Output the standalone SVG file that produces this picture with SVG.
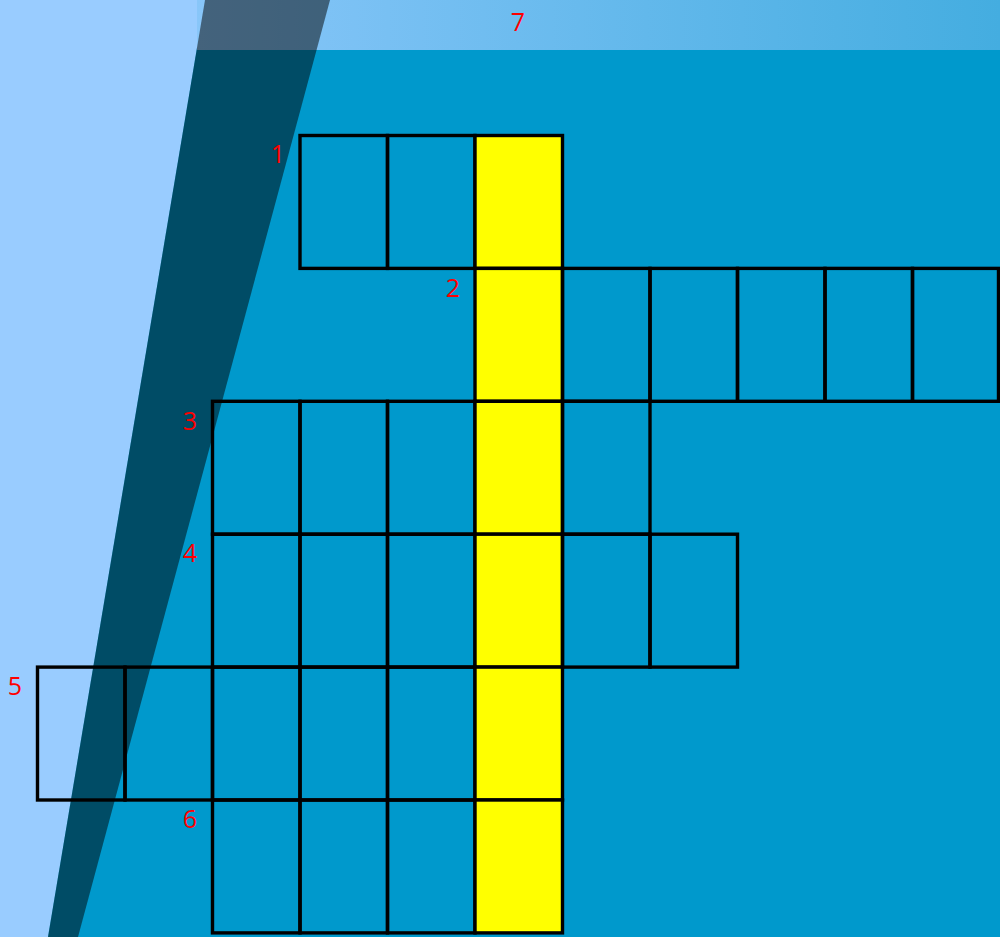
<svg xmlns="http://www.w3.org/2000/svg" width="1000" height="937" viewBox="0 0 1000 937">
<defs>
<linearGradient id="topg" x1="0" y1="0" x2="1000" y2="0" gradientUnits="userSpaceOnUse">
<stop offset="0" stop-color="#99CCFF"/>
<stop offset="1" stop-color="#44ADE0"/>
</linearGradient>
</defs>
<style>
.c{fill:none;stroke:#000;stroke-width:3.4}
.y{fill:#FFFF00;stroke:#000;stroke-width:3.4}
.n{font-family:"Open Sans","Liberation Sans",sans-serif;font-size:25px;fill:#FF0000;text-anchor:middle}
</style>
<g id="background">
<rect x="0" y="0" width="1000" height="937" fill="#99CCFF"/>
<polygon points="205,0 1000,0 1000,937 48,937" fill="#0099CC"/>
<rect x="197" y="0" width="803" height="50" fill="url(#topg)"/>
<polygon points="205,0 330,0 78,937 48,937" fill="#000" fill-opacity="0.5"/>
</g>
<g id="connectors"/>
<g id="word1">
<rect class="c" x="300" y="135.5" width="87.5" height="132.9"/>
<rect class="c" x="387.5" y="135.5" width="87.5" height="132.9"/>
<rect class="y" x="475" y="135.5" width="87.5" height="132.9"/>
<text class="n" x="278" y="163">1</text>
</g>
<g id="word2">
<rect class="y" x="475" y="268.4" width="87.5" height="132.9"/>
<rect class="c" x="562.5" y="268.4" width="87.5" height="132.9"/>
<rect class="c" x="650" y="268.4" width="87.5" height="132.9"/>
<rect class="c" x="737.5" y="268.4" width="87.5" height="132.9"/>
<rect class="c" x="825" y="268.4" width="87.5" height="132.9"/>
<rect class="c" x="912.5" y="268.4" width="86" height="132.9"/>
<text class="n" x="453" y="297">2</text>
</g>
<g id="word3">
<rect class="c" x="212.5" y="401.3" width="87.5" height="132.9"/>
<rect class="c" x="300" y="401.3" width="87.5" height="132.9"/>
<rect class="c" x="387.5" y="401.3" width="87.5" height="132.9"/>
<rect class="y" x="475" y="401.3" width="87.5" height="132.9"/>
<rect class="c" x="562.5" y="401.3" width="87.5" height="132.9"/>
<text class="n" x="190" y="430">3</text>
</g>
<g id="word4">
<rect class="c" x="212.5" y="534.2" width="87.5" height="132.9"/>
<rect class="c" x="300" y="534.2" width="87.5" height="132.9"/>
<rect class="c" x="387.5" y="534.2" width="87.5" height="132.9"/>
<rect class="y" x="475" y="534.2" width="87.5" height="132.9"/>
<rect class="c" x="562.5" y="534.2" width="87.5" height="132.9"/>
<rect class="c" x="650" y="534.2" width="87.5" height="132.9"/>
<text class="n" x="190" y="562">4</text>
</g>
<g id="word5">
<rect class="c" x="37.5" y="667.1" width="87.5" height="132.9"/>
<rect class="c" x="125" y="667.1" width="87.5" height="132.9"/>
<rect class="c" x="212.5" y="667.1" width="87.5" height="132.9"/>
<rect class="c" x="300" y="667.1" width="87.5" height="132.9"/>
<rect class="c" x="387.5" y="667.1" width="87.5" height="132.9"/>
<rect class="y" x="475" y="667.1" width="87.5" height="132.9"/>
<text class="n" x="15" y="695">5</text>
</g>
<g id="word6">
<rect class="c" x="212.5" y="800" width="87.5" height="132.9"/>
<rect class="c" x="300" y="800" width="87.5" height="132.9"/>
<rect class="c" x="387.5" y="800" width="87.5" height="132.9"/>
<rect class="y" x="475" y="800" width="87.5" height="132.9"/>
<text class="n" x="190" y="828">6</text>
</g>
<g id="word7">
<text class="n" x="518" y="31">7</text>
</g>
</svg>
